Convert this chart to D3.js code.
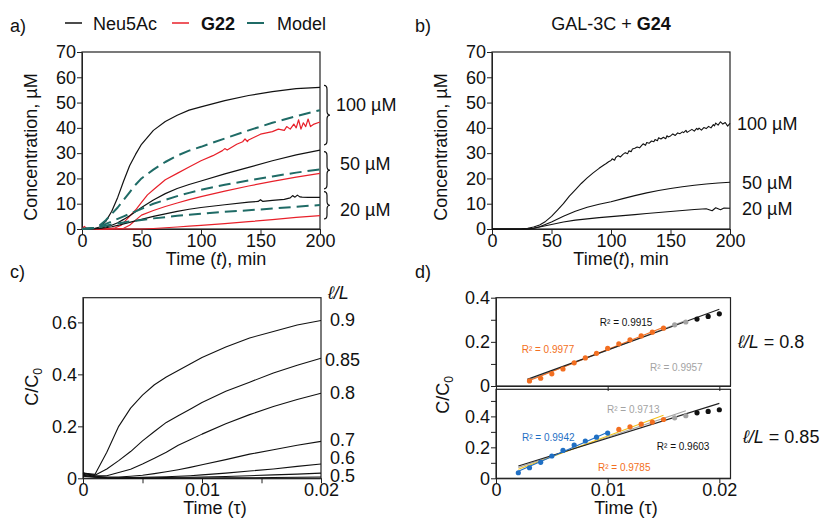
<!DOCTYPE html>
<html><head><meta charset="utf-8">
<script src="https://cdn.jsdelivr.net/npm/d3@7"></script>
<style>
body{margin:0;background:#fff;}
svg{font-family:"Liberation Sans",Arial,sans-serif;}
</style></head><body>
<svg id="c" width="824" height="518"></svg>
<script>
// ---------- Panel a data ----------
const timeA = [0,10,15,20,25,30,35,40,45,50,60,70,80,90,100,120,140,160,180,200];
const neu100 = [0,0.2,0.8,3,7,12.5,19,25,29.5,33.5,39,42.5,45,47,48.3,50.8,52.8,54.3,55.5,56];
const model100 = [0,0.4,1.5,3.5,6,8.5,11.5,14.5,17.5,20,23.5,26.5,29,31,32.5,35.8,39,42,44.6,47];
const neu50 = [0,0.1,0.3,0.8,1.5,2.5,3.8,5.2,6.8,8.5,11.5,14,16,17.6,19,21.8,24.4,27,29.3,31.2];
const model50 = [0,0.4,1.2,2,3,4,5,6,7,8,10,11.5,13,14.3,15.5,17.5,19.2,20.8,22.3,23.6];
const model20 = [0,0.3,0.8,1.3,1.8,2.2,2.6,3,3.3,3.6,4.2,4.7,5.2,5.6,6,6.8,7.4,8.1,8.8,9.5];
const g22_50 = [0,0,0,0,0,0.1,0.3,1.5,3.5,5.5,7.3,8.9,10.3,11.6,12.8,15,17,18.8,20.5,22];
const g22_20 = [0,0,0,0,0,0,0,0,0,0,0.2,0.5,0.8,1.1,1.4,2.1,2.9,3.7,4.6,5.3];
const neu20T = [0,10,15,20,25,30,35,40,45,50,60,70,80,90,100,120,140,148,150,152,160,170,175,177,179,181,183,185,190,200];
const neu20V = [0,0.1,0.2,0.5,0.9,1.4,2,2.6,3.2,3.8,5,6,7,7.8,8.5,9.6,10.6,10.9,11.6,10.9,11.3,11.7,12.3,13.2,12.6,13.4,12.7,12.6,12.5,12.5];
const g22_100T = [0,2,4,10,20,28,33,38,45,50,55,60,70,80,90,100,110,118,120,122,130,135,137,139,140,150,160,165,170,172,175,178,180,182,184,186,188,190,192,195,200];
const g22_100V = [0,1,0.2,0,0,0.5,1.5,4,7.5,10.5,13.5,15.5,19.5,22,24.5,27,29,31,31.8,31.2,33.5,34.5,35.6,34.6,35.2,37.5,38.5,39.5,39,40.5,39.5,41.5,40,43.2,39.5,42,40.5,43.5,40.5,41.5,42.3];
const legendA = ["Neu5Ac","G22","Model"];
const braceRanges = [[56.8,33.3],[30.6,15.9],[14.8,4]];
const braceLabels = ["100 µM","50 µM","20 µM"];
const braceLabelY = [49,25.8,7.5];
const ticksConc = [0,10,20,30,40,50,60,70];
const ticksTime = [0,50,100,150,200];

// ---------- Panel b data ----------
const b100T = [0,20,25,30,35,40,45,50,55,60,65,70,75,80,85,90,94,96,98,100,101,103,104,106,108,110,112,114,115,117,118,120,122,124,126,127,129,130,132,134,136,137,139,140,142,144,146,147,148,150,152,154,156,158,160,161,163,164,166,168,170,172,173,174,176,178,180,182,184,186,187,188,190,192,194,196,198,200];
const b100V = [0,0,0.1,0.3,0.8,1.6,3,5,7.5,10,13,15.5,18,20.2,22.2,24,25.3,25.9,26.6,27.1,27.8,27.2,28.3,29.0,28.5,29.5,30.2,29.8,30.9,30.6,31.6,31.9,32.4,32.1,33.2,33.7,33.1,34.2,33.9,34.8,34.5,35.4,34.9,36.1,35.6,36.3,35.7,36.9,36.4,36.8,37.6,37.0,38.0,37.7,38.4,38.1,39.0,38.2,38.8,39.4,38.7,39.8,39.3,39.9,39.1,40.1,39.7,40.6,40.0,41.3,40.8,41.9,41.1,42.4,41.5,42.1,40.7,41.8];
const b50T = [0,30,35,40,50,60,70,80,90,100,110,120,130,140,150,160,170,180,190,200];
const b50V = [0,0,0.3,0.9,2.8,5,7,8.6,9.8,10.8,12,13.2,14.3,15.2,16,16.7,17.3,17.8,18.2,18.5];
const b20T = [0,30,35,40,50,60,70,80,90,100,110,120,130,140,150,160,170,180,185,188,192,195,200];
const b20V = [0,0,0.3,0.8,1.8,2.8,3.5,4,4.5,4.9,5.3,5.7,6.1,6.5,6.9,7.3,7.7,8,7.2,8.4,7.6,8.3,8.2];
const labelsB = ["100 µM","50 µM","20 µM"];
const titleB = ["GAL-3C + ","G24"];

// ---------- Panel c data ----------
const tauC = [0,0.001,0.002,0.003,0.004,0.005,0.006,0.007,0.008,0.009,0.01,0.012,0.014,0.016,0.018,0.02];
const c09 = [0.02,0.015,0.1,0.2,0.27,0.32,0.36,0.39,0.415,0.44,0.465,0.505,0.54,0.565,0.59,0.607];
const c085 = [0.02,0.012,0.036,0.068,0.103,0.144,0.18,0.215,0.241,0.266,0.292,0.335,0.37,0.405,0.435,0.462];
const c08 = [0.02,0.01,0.01,0.022,0.035,0.055,0.077,0.1,0.127,0.148,0.17,0.21,0.245,0.276,0.303,0.327];
const c07 = [0.015,0.008,0.005,0.005,0.008,0.012,0.018,0.025,0.033,0.042,0.052,0.072,0.093,0.11,0.127,0.142];
const c06 = [0.012,0.006,0.003,0.002,0.003,0.004,0.005,0.006,0.008,0.01,0.013,0.02,0.028,0.036,0.046,0.055];
const c05 = [0.01,0.005,0.002,0.001,0.001,0.002,0.002,0.003,0.004,0.004,0.005,0.007,0.01,0.013,0.016,0.02];
const c04 = [0.008,0.004,0.001,0,0,0,0,0,0.001,0.001,0.001,0.002,0.002,0.003,0.004,0.005];
const labelsC = ["0.9","0.85","0.8","0.7","0.6","0.5"];
const labelsCY = [0.609,0.455,0.328,0.147,0.078,0.011];
const ticksTau = [0,0.005,0.01,0.015,0.02];
const tickLabTau = ["0","","0.01","","0.02"];
const ticksCY = [0,0.2,0.4,0.6];

// ---------- Panel d data ----------
const upOrangeT = [0.003,0.004,0.005,0.006,0.007,0.008,0.009,0.01,0.011,0.012,0.013,0.014,0.015];
const upOrangeV = [0.023,0.035,0.055,0.077,0.105,0.127,0.148,0.17,0.191,0.209,0.227,0.244,0.262];
const upGrayT = [0.016,0.017];
const upGrayV = [0.277,0.29];
const upBlackT = [0.018,0.019,0.02];
const upBlackV = [0.303,0.315,0.327];
const loBlueT = [0.002,0.003,0.004,0.005,0.006,0.007,0.008,0.009,0.01];
const loBlueV = [0.036,0.068,0.103,0.144,0.18,0.215,0.241,0.266,0.292];
const loOrangeT = [0.011,0.012,0.013,0.014,0.015];
const loOrangeV = [0.316,0.333,0.35,0.363,0.38];
const loGrayT = [0.016,0.017];
const loGrayV = [0.391,0.404];
const loBlackT = [0.018,0.019,0.02];
const loBlackV = [0.423,0.432,0.443];
// fit lines: [tau0, C0, tau1, C1]
const fitUpBlack = [0.0028,0.03,0.02,0.348];
const fitUpGray = [0.003,0.028,0.017,0.297];
const fitUpOrange = [0.003,0.025,0.015,0.266];
const fitLoBlack = [0.002,0.079,0.02,0.484];
const fitLoGray = [0.002,0.07,0.017,0.437];
const fitLoYellow = [0.002,0.058,0.015,0.408];
const fitLoBlue = [0.002,0.045,0.01,0.297];
const r2Up = ["R² = 0.9915","R² = 0.9977","R² = 0.9957"];
const r2UpPos = [[0.0093,0.273],[0.0023,0.15],[0.0138,0.068]];
const r2Lo = ["R² = 0.9713","R² = 0.9942","R² = 0.9603","R² = 0.9785"];
const r2LoPos = [[0.00994,0.4245],[0.00233,0.24],[0.0144,0.183],[0.00913,0.047]];
const ratioLabels = ["0.8","0.85"];
const ticksDUp = [0,0.1,0.2,0.3,0.4];
const tickLabDUp = ["0","","0.2","","0.4"];
const ticksDLo = [0,0.1,0.2,0.3,0.4,0.5];
const tickLabDLo = ["0","","0.2","","0.4",""];

// ---------- drawing ----------
const svg = d3.select("#c");
const FS = 18;
const RED = "#e8202a", TEAL = "#1f6b66", ORANGE = "#f36f21", BLUE = "#1f6fc4", GRAY = "#a3a3a3", YELLOW = "#f3c21a";

function styleAxis(g){
  g.selectAll("text").attr("font-size",FS).attr("font-family","Liberation Sans, Arial, sans-serif").attr("fill","#111");
  g.selectAll("line,path").attr("stroke","#222");
}
function box(x,y){
  svg.append("rect").attr("x",x.range()[0]).attr("y",y.range()[1])
    .attr("width",x.range()[1]-x.range()[0]).attr("height",y.range()[0]-y.range()[1])
    .attr("fill","none").attr("stroke","#222").attr("stroke-width",1.2);
}
function xAxis(x,y,vals,labs){
  const a = d3.axisBottom(x).tickValues(vals).tickSize(5).tickSizeOuter(0).tickPadding(0);
  if(labs) a.tickFormat((d,i)=>labs[i]);
  const g = svg.append("g").attr("transform",`translate(0,${y.range()[0]})`).call(a);
  styleAxis(g); return g;
}
function yAxis(x,y,vals,labs){
  const a = d3.axisLeft(y).tickValues(vals).tickSize(5).tickSizeOuter(0).tickPadding(1);
  if(labs) a.tickFormat((d,i)=>labs[i]);
  const g = svg.append("g").attr("transform",`translate(${x.range()[0]},0)`).call(a);
  styleAxis(g); return g;
}
function line(x,y,T,V,color,w,dash){
  const p = svg.append("path").datum(T.map((t,i)=>[t,V[i]]))
    .attr("d",d3.line().x(d=>x(d[0])).y(d=>y(d[1])))
    .attr("fill","none").attr("stroke",color).attr("stroke-width",w).attr("stroke-linejoin","round");
  if(dash) p.attr("stroke-dasharray",dash);
}
function text(x,y,s,opt={}){
  const t = svg.append("text").attr("x",x).attr("y",y).attr("font-size",opt.fs||FS).attr("fill",opt.fill||"#111").text(s);
  if(opt.anchor) t.attr("text-anchor",opt.anchor);
  if(opt.weight) t.attr("font-weight",opt.weight);
  if(opt.style) t.attr("font-style",opt.style);
  return t;
}
function yTitle(cx,cy,build){
  const t = svg.append("text").attr("transform",`translate(${cx},${cy}) rotate(-90)`).attr("text-anchor","middle").attr("font-size",FS).attr("fill","#111");
  build(t); return t;
}

// Panel a
const xA = d3.scaleLinear([0,200],[82,320]);
const yA = d3.scaleLinear([0,70],[229,52]);
box(xA,yA); xAxis(xA,yA,ticksTime); yAxis(xA,yA,ticksConc);
line(xA,yA,timeA,g22_20,RED,1.2);
line(xA,yA,timeA,g22_50,RED,1.2);
line(xA,yA,g22_100T,g22_100V,RED,1.2);
line(xA,yA,neu20T,neu20V,"#111",1.2);
line(xA,yA,timeA,neu50,"#111",1.2);
line(xA,yA,timeA,neu100,"#111",1.2);
line(xA,yA,timeA,model20,TEAL,2,"12,6");
line(xA,yA,timeA,model50,TEAL,2,"12,6");
line(xA,yA,timeA,model100,TEAL,2,"12,6");
braceRanges.forEach((r,i)=>{
  const y1=yA(r[0]), y2=yA(r[1]), m=(y1+y2)/2, x=324, h=3, w=6;
  svg.append("path").attr("d",`M${x},${y1} Q${x+h},${y1} ${x+h},${y1+4} L${x+h},${m-4} Q${x+h},${m} ${x+w},${m} Q${x+h},${m} ${x+h},${m+4} L${x+h},${y2-4} Q${x+h},${y2} ${x},${y2}`)
    .attr("fill","none").attr("stroke","#111").attr("stroke-width",1.2);
  text(i===0?336:340,yA(braceLabelY[i]),braceLabels[i]).attr("dy","0.35em");
});
yTitle(37,147,t=>t.text("Concentration, µM"));
{const t=text(216,265,"Time (",{anchor:"middle"}); t.append("tspan").attr("font-style","italic").text("t"); t.append("tspan").text("), min");}
text(10,32,"a)");
// legend
const legColors=["#111",RED,TEAL];
const legX=[65,172,247], legTX=[93,201,277];
legendA.forEach((s,i)=>{
  svg.append("line").attr("x1",legX[i]).attr("x2",legX[i]+17).attr("y1",23).attr("y2",23).attr("stroke",legColors[i]).attr("stroke-width",i===2?2:1.5);
  text(legTX[i],30,s,{weight:i===1?"bold":null});
});

// Panel b
const xB = d3.scaleLinear([0,200],[492,730]);
const yB = d3.scaleLinear([0,70],[229,52]);
box(xB,yB); xAxis(xB,yB,ticksTime); yAxis(xB,yB,ticksConc);
line(xB,yB,b20T,b20V,"#111",1.1);
line(xB,yB,b50T,b50V,"#111",1.1);
line(xB,yB,b100T,b100V,"#111",1.1);
const bEnds=[b100V[b100V.length-1],b50V[b50V.length-1],b20V[b20V.length-1]];
labelsB.forEach((s,i)=>text(i===0?737:742,yB(bEnds[i]),s).attr("dy","0.35em"));
{const t=text(611,30,titleB[0],{anchor:"middle"}); t.append("tspan").attr("font-weight","bold").text(titleB[1]);}
yTitle(447,147,t=>t.text("Concentration, µM"));
{const t=text(621,265,"Time(",{anchor:"middle"}); t.append("tspan").attr("font-style","italic").text("t"); t.append("tspan").text("), min");}
text(415,32,"b)");

// Panel c
const xC = d3.scaleLinear([0,0.02],[83,321]);
const yC = d3.scaleLinear([0,0.695],[478.3,297.7]);
box(xC,yC); xAxis(xC,yC,ticksTau,tickLabTau); yAxis(xC,yC,ticksCY,["0","0.2","0.4","0.6"]);
[c04,c05,c06,c07,c08,c085,c09].forEach(v=>line(xC,yC,tauC,v,"#111",1.1));
labelsC.forEach((s,i)=>text(i===1?325:330,yC(labelsCY[i]),s).attr("dy","0.35em"));
{const t=text(328,299,"ℓ/",{style:"italic"}); t.append("tspan").text("L");}
yTitle(38,387,t=>{t.text("C/C"); t.append("tspan").attr("font-size",12).attr("dy",4).text("0");});
{const t=text(215,514,"Time (",{anchor:"middle"}); t.append("tspan").text("τ"); t.append("tspan").text(")");}
text(10,278,"c)");

// Panel d
const xD = d3.scaleLinear([0,0.021],[496,730.5]);
const yDu = d3.scaleLinear([0,0.4],[386,297.7]);
const yDl = d3.scaleLinear([0,0.575],[478.3,389.3]);
box(xD,yDu); box(xD,yDl);
xAxis(xD,yDu,[0,0.01,0.02],["","",""]);
xAxis(xD,yDl,[0,0.01,0.02],["0","0.01","0.02"]);
yAxis(xD,yDu,ticksDUp,tickLabDUp);
yAxis(xD,yDl,ticksDLo,tickLabDLo);
function fit(y,f,color){
  svg.append("line").attr("x1",xD(f[0])).attr("y1",y(f[1])).attr("x2",xD(f[2])).attr("y2",y(f[3])).attr("stroke",color).attr("stroke-width",1.1);
}
function pts(y,T,V,color){
  svg.append("g").selectAll("circle").data(T).join("circle").attr("cx",d=>xD(d)).attr("cy",(d,i)=>y(V[i])).attr("r",2.6).attr("fill",color);
}
fit(yDu,fitUpGray,GRAY); fit(yDu,fitUpOrange,ORANGE); fit(yDu,fitUpBlack,"#222");
pts(yDu,upOrangeT,upOrangeV,ORANGE); pts(yDu,upGrayT,upGrayV,GRAY); pts(yDu,upBlackT,upBlackV,"#111");
fit(yDl,fitLoGray,GRAY); fit(yDl,fitLoYellow,YELLOW); fit(yDl,fitLoBlack,"#222"); fit(yDl,fitLoBlue,BLUE);
pts(yDl,loBlueT,loBlueV,BLUE); pts(yDl,loOrangeT,loOrangeV,ORANGE); pts(yDl,loGrayT,loGrayV,GRAY); pts(yDl,loBlackT,loBlackV,"#111");
const r2UpCol=["#111",ORANGE,GRAY], r2LoCol=[GRAY,BLUE,"#111",ORANGE];
r2Up.forEach((s,i)=>text(xD(r2UpPos[i][0]),yDu(r2UpPos[i][1]),s,{fs:10,fill:r2UpCol[i]}));
r2Lo.forEach((s,i)=>text(xD(r2LoPos[i][0]),yDl(r2LoPos[i][1]),s,{fs:10,fill:r2LoCol[i]}));
[[738,348],[743,443]].forEach((p,i)=>{
  const t=text(p[0],p[1],"ℓ/",{style:"italic"}); t.append("tspan").text("L"); t.append("tspan").attr("font-style","normal").text(" = "+ratioLabels[i]);
});
yTitle(449,395,t=>{t.text("C/C"); t.append("tspan").attr("font-size",12).attr("dy",4).text("0");});
{const t=text(626,514,"Time (",{anchor:"middle"}); t.append("tspan").text("τ"); t.append("tspan").text(")");}
text(415,278,"d)");
</script>
</body></html>
